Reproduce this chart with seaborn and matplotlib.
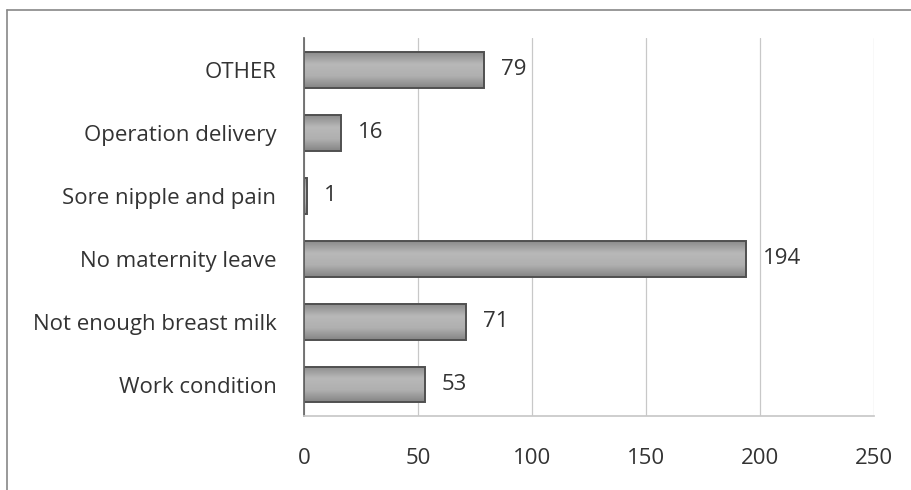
import numpy as np
import pandas as pd
import matplotlib.pyplot as plt
import seaborn as sns
from matplotlib.colors import LinearSegmentedColormap

categories = ['OTHER', 'Operation delivery', 'Sore nipple and pain',
              'No maternity leave', 'Not enough breast milk', 'Work condition']
counts = [79, 16, 1, 194, 71, 53]
x_ticks = [0, 50, 100, 150, 200, 250]

sns.set_theme(style="white")
plt.rcParams['font.family'] = ['Open Sans', 'DejaVu Sans']

data = pd.DataFrame({'reason': categories, 'count': counts})

fig = plt.figure(figsize=(9.11, 4.9), dpi=100)
ax = fig.add_axes([0.334, 0.151, 0.625, 0.771])

sns.barplot(data=data, y='reason', x='count', orient='h', ax=ax,
            color='#a6a6a6', edgecolor='#505050', linewidth=1.4,
            width=0.57, saturation=1)

# soft vertical shading inside each bar
shade = LinearSegmentedColormap.from_list('shade', ['#8c8c8c', '#b8b8b8', '#b0b0b0', '#858585'])
grad = np.linspace(0, 1, 64).reshape(-1, 1)
xlim, ylim = ax.get_xlim(), ax.get_ylim()
for bar in ax.patches:
    x0, y0 = bar.get_x(), bar.get_y()
    im = ax.imshow(grad, cmap=shade, aspect='auto', interpolation='bicubic',
                   extent=[x0, x0 + bar.get_width(), y0 + bar.get_height(), y0],
                   zorder=bar.get_zorder() - 0.01)
    im.set_clip_path(bar)
    bar.set_facecolor('none')
ax.set_xlim(xlim)
ax.set_ylim(ylim)

for bar, v in zip(ax.patches, counts):
    ax.text(bar.get_width() + 7.5, bar.get_y() + bar.get_height() / 2, str(v),
            va='center', ha='left', fontsize=16, color='#333333')

ax.set_xlim(0, 250)
ax.set_xticks(x_ticks)
ax.xaxis.grid(True, color='#c8c8c8', linewidth=0.9)
ax.set_axisbelow(True)
ax.set_xlabel('')
ax.set_ylabel('')
ax.tick_params(axis='x', labelsize=16, colors='#333333', pad=23, length=0)
ax.tick_params(axis='y', labelsize=16, colors='#333333', pad=20, length=0)

for side in ['top', 'right']:
    ax.spines[side].set_visible(False)
ax.spines['left'].set_color('#666666')
ax.spines['bottom'].set_color('#c8c8c8')

# outer frame of the chart area
fig.add_artist(plt.Line2D([0.008, 0.008], [0, 0.98], color='#888888', lw=1.2,
                          transform=fig.transFigure))
fig.add_artist(plt.Line2D([0.008, 1], [0.98, 0.98], color='#888888', lw=1.2,
                          transform=fig.transFigure))

fig.savefig('out.png', dpi=100)
